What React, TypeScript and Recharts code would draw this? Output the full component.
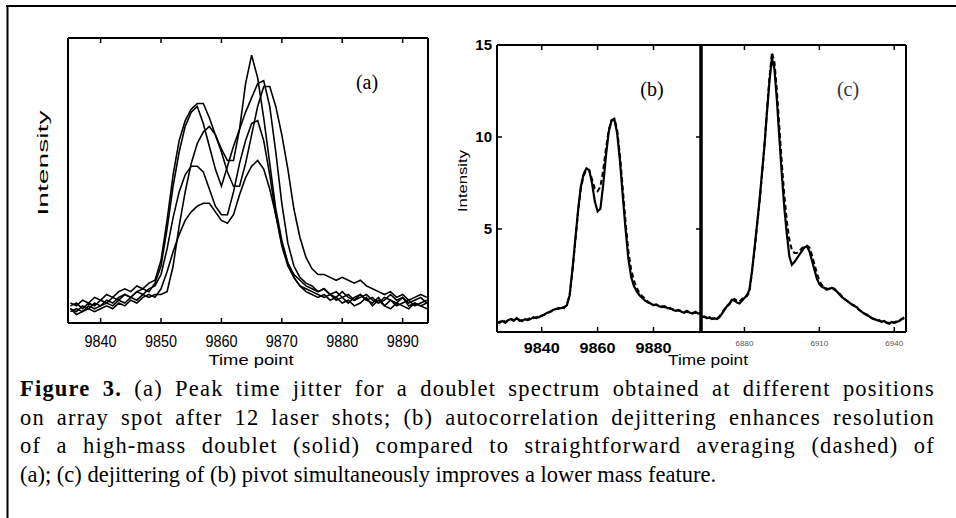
import React from 'react';
import { LineChart, Line, XAxis, YAxis } from 'recharts';

// ---------- Panel (a): five shots, time points 9835..9894 ----------
const startA = 9835;
const shotA1 = [5, 4, 6, 5, 7, 6, 8, 7, 9, 10, 9, 11, 12, 11, 14, 20, 33, 48, 60, 69, 74, 76, 70, 62, 54, 48, 55, 62, 68, 74, 79, 84, 85, 76, 60, 42, 28, 20, 16, 14, 13, 11, 12, 10, 9, 11, 9, 8, 10, 8, 9, 7, 8, 10, 8, 9, 7, 8, 9, 7];
const shotA2 = [7, 6, 8, 7, 9, 8, 10, 9, 11, 12, 11, 13, 12, 14, 15, 22, 36, 52, 64, 71, 75, 77, 77, 72, 66, 61, 57, 57, 68, 84, 94, 86, 72, 56, 40, 29, 21, 17, 15, 13, 12, 11, 12, 10, 11, 9, 10, 8, 9, 10, 8, 7, 9, 8, 6, 7, 8, 6, 7, 8];
const shotA3 = [4, 5, 4, 6, 5, 6, 7, 6, 8, 7, 9, 8, 10, 9, 10, 10, 11, 20, 34, 46, 56, 63, 67, 69, 66, 60, 53, 48, 48, 56, 66, 76, 83, 83, 76, 66, 54, 40, 30, 23, 19, 17, 17, 16, 15, 16, 15, 14, 15, 13, 12, 11, 10, 11, 9, 10, 8, 9, 10, 9];
const shotA4 = [6, 7, 5, 7, 6, 8, 7, 9, 8, 10, 9, 11, 10, 12, 13, 17, 26, 37, 46, 52, 55, 55, 53, 47, 41, 38, 38, 46, 56, 64, 70, 71, 64, 52, 38, 27, 20, 16, 13, 12, 11, 10, 9, 10, 8, 9, 7, 9, 10, 8, 7, 9, 6, 8, 7, 9, 6, 7, 6, 7];
const shotA5 = [5, 3, 4, 5, 4, 5, 6, 5, 7, 6, 8, 7, 9, 10, 9, 12, 18, 25, 31, 36, 39, 41, 42, 42, 39, 36, 35, 38, 45, 51, 55, 57, 54, 47, 38, 28, 21, 16, 13, 11, 10, 9, 10, 8, 9, 7, 8, 6, 7, 9, 6, 8, 6, 5, 7, 6, 5, 7, 6, 5];
const ticksA = [9840, 9850, 9860, 9870, 9880, 9890];

// ---------- Panel (b): time points 9824..9897 ----------
const startB = 9824;
const solidB = [-0.1, -0.05, 0.0, -0.1, 0.05, 0.1, 0.0, 0.15, 0.05, 0.0,
  0.1, 0.05, 0.1, 0.2, 0.15, 0.2, 0.3, 0.35, 0.45, 0.5,
  0.6, 0.65, 0.7, 0.7, 0.75, 0.85, 1.4, 2.8, 4.4, 6.0,
  7.3, 8.0, 8.3, 8.2, 7.5, 6.5, 5.95, 6.1, 7.4, 9.0,
  10.3, 10.9, 10.95, 10.2, 8.7, 6.8, 5.0, 3.4, 2.4, 1.9,
  1.6, 1.4, 1.25, 1.1, 1.0, 0.95, 0.85, 0.9, 0.8, 0.75,
  0.8, 0.7, 0.7, 0.6, 0.55, 0.6, 0.5, 0.45, 0.55, 0.45,
  0.4, 0.5, 0.4, 0.45];
const dashedB = [-0.05, -0.1, 0.05, -0.05, 0.0, 0.1, 0.05, 0.1, 0.0, 0.05,
  0.05, 0.1, 0.15, 0.15, 0.2, 0.25, 0.25, 0.35, 0.4, 0.5,
  0.55, 0.65, 0.65, 0.75, 0.7, 0.9, 1.4, 2.7, 4.3, 5.9,
  7.2, 7.9, 8.2, 8.2, 7.7, 7.2, 7.05, 7.3, 8.2, 9.4,
  10.4, 10.9, 11.0, 10.4, 9.0, 7.2, 5.4, 3.8, 2.8, 2.2,
  1.8, 1.5, 1.35, 1.2, 1.05, 0.95, 0.9, 0.85, 0.85, 0.8,
  0.75, 0.75, 0.65, 0.65, 0.6, 0.55, 0.55, 0.5, 0.5, 0.45,
  0.45, 0.45, 0.45, 0.4];
const ticksBX = [9840, 9860, 9880];
const ticksBY = [5, 10, 15];

// ---------- Panel (c): time points 6863..6944 ----------
const startC = 6863;
const solidC = [0.2, 0.25, 0.15, 0.2, 0.1, 0.15, 0.1, 0.2, 0.4, 0.6,
  0.8, 0.95, 1.15, 1.1, 1.0, 0.95, 1.1, 1.25, 1.4, 1.7,
  2.7, 3.9, 5.2, 6.5, 8.0, 9.5, 11.3, 13.0, 14.3, 13.7,
  12.0, 9.9, 7.9, 6.1, 4.7, 3.5, 3.05, 3.2, 3.4, 3.6,
  3.8, 4.0, 4.05, 3.8, 3.3, 2.8, 2.3, 2.0, 1.85, 1.8,
  1.7, 1.75, 1.8, 1.75, 1.6, 1.45, 1.3, 1.2, 1.1, 1.0,
  0.9, 0.8, 0.75, 0.6, 0.5, 0.4, 0.35, 0.25, 0.15, 0.1,
  0.05, 0.0, -0.05, 0.0, -0.1, -0.15, -0.05, -0.1, -0.05, 0.0,
  0.1, 0.2];
const dashedC = [0.25, 0.2, 0.2, 0.15, 0.15, 0.1, 0.15, 0.25, 0.45, 0.65,
  0.8, 0.9, 1.1, 1.2, 1.1, 1.05, 1.2, 1.3, 1.35, 1.6,
  2.6, 3.8, 5.1, 6.4, 7.9, 9.5, 11.4, 13.2, 14.6, 14.1,
  12.5, 10.5, 8.5, 6.8, 5.4, 4.4, 3.85, 3.7, 3.7, 3.8,
  3.95, 4.05, 4.1, 4.0, 3.6, 3.1, 2.6, 2.2, 1.95, 1.85,
  1.75, 1.75, 1.8, 1.7, 1.6, 1.5, 1.35, 1.2, 1.1, 1.0,
  0.9, 0.85, 0.7, 0.6, 0.5, 0.4, 0.3, 0.25, 0.15, 0.1,
  0.0, 0.05, -0.05, -0.05, -0.1, -0.1, -0.05, -0.1, 0.0, 0.05,
  0.1, 0.15];
const ticksCX = [6880, 6910, 6940];

const captionLines = [
  'on array spot after 12 laser shots; (b) autocorrelation dejittering enhances resolution',
  'of a high-mass doublet (solid) compared to straightforward averaging (dashed) of',
  '(a); (c) dejittering of (b) pivot simultaneously improves a lower mass feature.',
];

// ---------- tables ----------
const dataA = shotA1.map((v, i) => ({ t: startA + i, s1: v, s2: shotA2[i], s3: shotA3[i], s4: shotA4[i], s5: shotA5[i] }));
const dataB = solidB.map((v, i) => ({ t: startB + i, solid: v, dashed: dashedB[i] }));
const dataC = solidC.map((v, i) => ({ t: startC + i, solid: v, dashed: dashedC[i] }));

const SANS = '"Liberation Sans", Arial, sans-serif';
const SERIF = '"Liberation Serif", "Times New Roman", serif';

type TickOpts = {
  side: 'bottom' | 'top' | 'left' | 'right';
  len: number;
  label?: boolean;
  dx?: number;
  dy?: number;
  anchor?: string;
  fontSize?: number;
  fontWeight?: any;
  fill?: string;
  textLength?: number;
};

const makeTick = (o: TickOpts) => (props: any) => {
  const { x, y, payload } = props;
  let x2 = x;
  let y2 = y;
  if (o.side === 'bottom') y2 = y - o.len;
  else if (o.side === 'top') y2 = y + o.len;
  else if (o.side === 'left') x2 = x + o.len;
  else x2 = x - o.len;
  return (
    <g>
      <line x1={x} y1={y} x2={x2} y2={y2} stroke="#000" strokeWidth={1.5} />
      {o.label ? (
        <text
          x={x + (o.dx || 0)}
          y={y + (o.dy || 0)}
          textAnchor={o.anchor || 'middle'}
          fontFamily={SANS}
          fontSize={o.fontSize || 14}
          fontWeight={o.fontWeight || 'normal'}
          fill={o.fill || '#000'}
          textLength={o.textLength}
          lengthAdjust={o.textLength ? 'spacingAndGlyphs' : undefined}
        >
          {payload.value}
        </text>
      ) : null}
    </g>
  );
};

const W = 956;
const H = 380;
const frame = { stroke: '#000', strokeWidth: 2 };
const abs: React.CSSProperties = { position: 'absolute', left: 0, top: 0 };

// plot boxes (axes take 1px each, so margins are reduced by 1)
const boxA = { l: 68, t: 38, r: 428, b: 323 };
const boxB = { l: 497, t: 45, r: 701, b: 332 };
const boxC = { l: 701, t: 45, r: 906, b: 332 };
const marginOf = (bx: { l: number; t: number; r: number; b: number }) => ({
  top: bx.t - 1, left: bx.l - 1, right: W - bx.r - 1, bottom: H - bx.b - 1,
});

const justLine: React.CSSProperties = { textAlign: 'justify', textAlignLast: 'justify', whiteSpace: 'nowrap', letterSpacing: '1.2px' };

export default function App() {
  return (
    <div style={{ position: 'absolute', left: 0, top: 0, width: 956, height: 518, background: '#fff', overflow: 'hidden' }}>
      {/* Panel (a) */}
      <div style={abs}>
        <LineChart width={W} height={H} data={dataA} margin={marginOf(boxA)}>
          <XAxis dataKey="t" type="number" domain={[9834.6, 9894.2]} allowDataOverflow ticks={ticksA} interval={0}
            height={1} tickSize={0} tickMargin={0} tickLine={false} axisLine={frame}
            tick={makeTick({ side: 'bottom', len: 5, label: true, dy: 23.5, fontSize: 16, textLength: 32 })} />
          <XAxis xAxisId="top" orientation="top" dataKey="t" type="number" domain={[9834.6, 9894.2]} allowDataOverflow ticks={ticksA} interval={0}
            height={1} tickSize={0} tickMargin={0} tickLine={false} axisLine={frame}
            tick={makeTick({ side: 'top', len: 5 })} />
          <YAxis domain={[0, 100]} allowDataOverflow width={1} ticks={[0]} tick={false} tickLine={false} axisLine={frame} />
          <YAxis yAxisId="right" orientation="right" domain={[0, 100]} width={1} ticks={[0]} tick={false} tickLine={false} axisLine={frame} />
          {['s1', 's2', 's3', 's4', 's5'].map((k) => (
            <Line key={k} dataKey={k} type="linear" stroke="#000" strokeWidth={1.6} dot={false} isAnimationActive={false} />
          ))}
        </LineChart>
      </div>

      {/* Panel (b) */}
      <div style={abs}>
        <LineChart width={W} height={H} data={dataB} margin={marginOf(boxB)}>
          <XAxis dataKey="t" type="number" domain={[9824, 9897]} allowDataOverflow ticks={ticksBX} interval={0}
            height={1} tickSize={0} tickMargin={0} tickLine={false} axisLine={frame}
            tick={makeTick({ side: 'bottom', len: 5, label: true, dy: 21, fontSize: 15, fontWeight: 'bold', textLength: 36 })} />
          <XAxis xAxisId="top" orientation="top" dataKey="t" type="number" domain={[9824, 9897]} allowDataOverflow ticks={ticksBX} interval={0}
            height={1} tickSize={0} tickMargin={0} tickLine={false} axisLine={frame}
            tick={makeTick({ side: 'top', len: 5 })} />
          <YAxis domain={[-0.6, 15]} allowDataOverflow ticks={ticksBY} interval={0} width={1} tickSize={0} tickMargin={0} tickLine={false} axisLine={frame}
            tick={makeTick({ side: 'left', len: 5, label: true, dx: -5, dy: 5, anchor: 'end', fontSize: 15, fontWeight: 'bold' })} />
          <YAxis yAxisId="right" orientation="right" domain={[-0.6, 15]} allowDataOverflow ticks={ticksBY} interval={0} width={1} tickSize={0} tickMargin={0} tickLine={false}
            axisLine={{ stroke: '#000', strokeWidth: 3 }}
            tick={makeTick({ side: 'right', len: 5 })} />
          <Line dataKey="solid" type="linear" stroke="#000" strokeWidth={2.2} dot={false} isAnimationActive={false} />
          <Line dataKey="dashed" type="linear" stroke="#000" strokeWidth={2} strokeDasharray="5 3" dot={false} isAnimationActive={false} />
        </LineChart>
      </div>

      {/* Panel (c) */}
      <div style={abs}>
        <LineChart width={W} height={H} data={dataC} margin={marginOf(boxC)}>
          <XAxis dataKey="t" type="number" domain={[6862.6, 6944.7]} allowDataOverflow ticks={ticksCX} interval={0}
            height={1} tickSize={0} tickMargin={0} tickLine={false} axisLine={frame}
            tick={makeTick({ side: 'bottom', len: 5, label: true, dy: 14, fontSize: 8, fill: '#555' })} />
          <XAxis xAxisId="top" orientation="top" dataKey="t" type="number" domain={[6862.6, 6944.7]} allowDataOverflow ticks={ticksCX} interval={0}
            height={1} tickSize={0} tickMargin={0} tickLine={false} axisLine={frame}
            tick={makeTick({ side: 'top', len: 5 })} />
          <YAxis domain={[-0.6, 15]} allowDataOverflow width={1} ticks={[0]} tick={false} tickLine={false} axisLine={{ stroke: '#000', strokeWidth: 3 }} />
          <YAxis yAxisId="right" orientation="right" domain={[-0.6, 15]} width={1} ticks={[0]} tick={false} tickLine={false} axisLine={frame} />
          <Line dataKey="solid" type="linear" stroke="#000" strokeWidth={2.2} dot={false} isAnimationActive={false} />
          <Line dataKey="dashed" type="linear" stroke="#000" strokeWidth={2} strokeDasharray="5 3" dot={false} isAnimationActive={false} />
        </LineChart>
      </div>

      {/* Labels and figure frame */}
      <svg width={956} height={518} style={{ ...abs, pointerEvents: 'none' }}>
        <line x1={6} y1={6} x2={956} y2={6} stroke="#000" strokeWidth={2} />
        <line x1={7.5} y1={5} x2={7.5} y2={518} stroke="#000" strokeWidth={2} />
        <text x={367} y={89} textAnchor="middle" fontFamily={SERIF} fontSize={20}>(a)</text>
        <text x={652} y={96} textAnchor="middle" fontFamily={SERIF} fontSize={20}>(b)</text>
        <text x={848} y={96} textAnchor="middle" fontFamily={SERIF} fontSize={20} fill="#333">(c)</text>
        <text x={48} y={163} transform="rotate(-90 48 163)" textAnchor="middle" fontFamily={SANS} fontSize={14}
          textLength={105} lengthAdjust="spacingAndGlyphs">Intensity</text>
        <text x={467} y={181} transform="rotate(-90 467 181)" textAnchor="middle" fontFamily={SANS} fontSize={12}
          textLength={62} lengthAdjust="spacingAndGlyphs">Intensity</text>
        <text x={251} y={365} textAnchor="middle" fontFamily={SANS} fontSize={14}
          textLength={85} lengthAdjust="spacingAndGlyphs">Time point</text>
        <text x={708} y={365} textAnchor="middle" fontFamily={SANS} fontSize={14}
          textLength={80} lengthAdjust="spacingAndGlyphs">Time point</text>
      </svg>

      {/* Caption */}
      <div style={{ position: 'absolute', left: 20, top: 375, width: 915, fontFamily: SERIF, fontSize: 22.5, lineHeight: '28.5px', color: '#000' }}>
        <div style={justLine}>
          <b>Figure 3.</b> (a) Peak time jitter for a doublet spectrum obtained at different positions
        </div>
        <div style={justLine}>{captionLines[0]}</div>
        <div style={justLine}>{captionLines[1]}</div>
        <div style={{ textAlign: 'left', whiteSpace: 'nowrap' }}>{captionLines[2]}</div>
      </div>
    </div>
  );
}
